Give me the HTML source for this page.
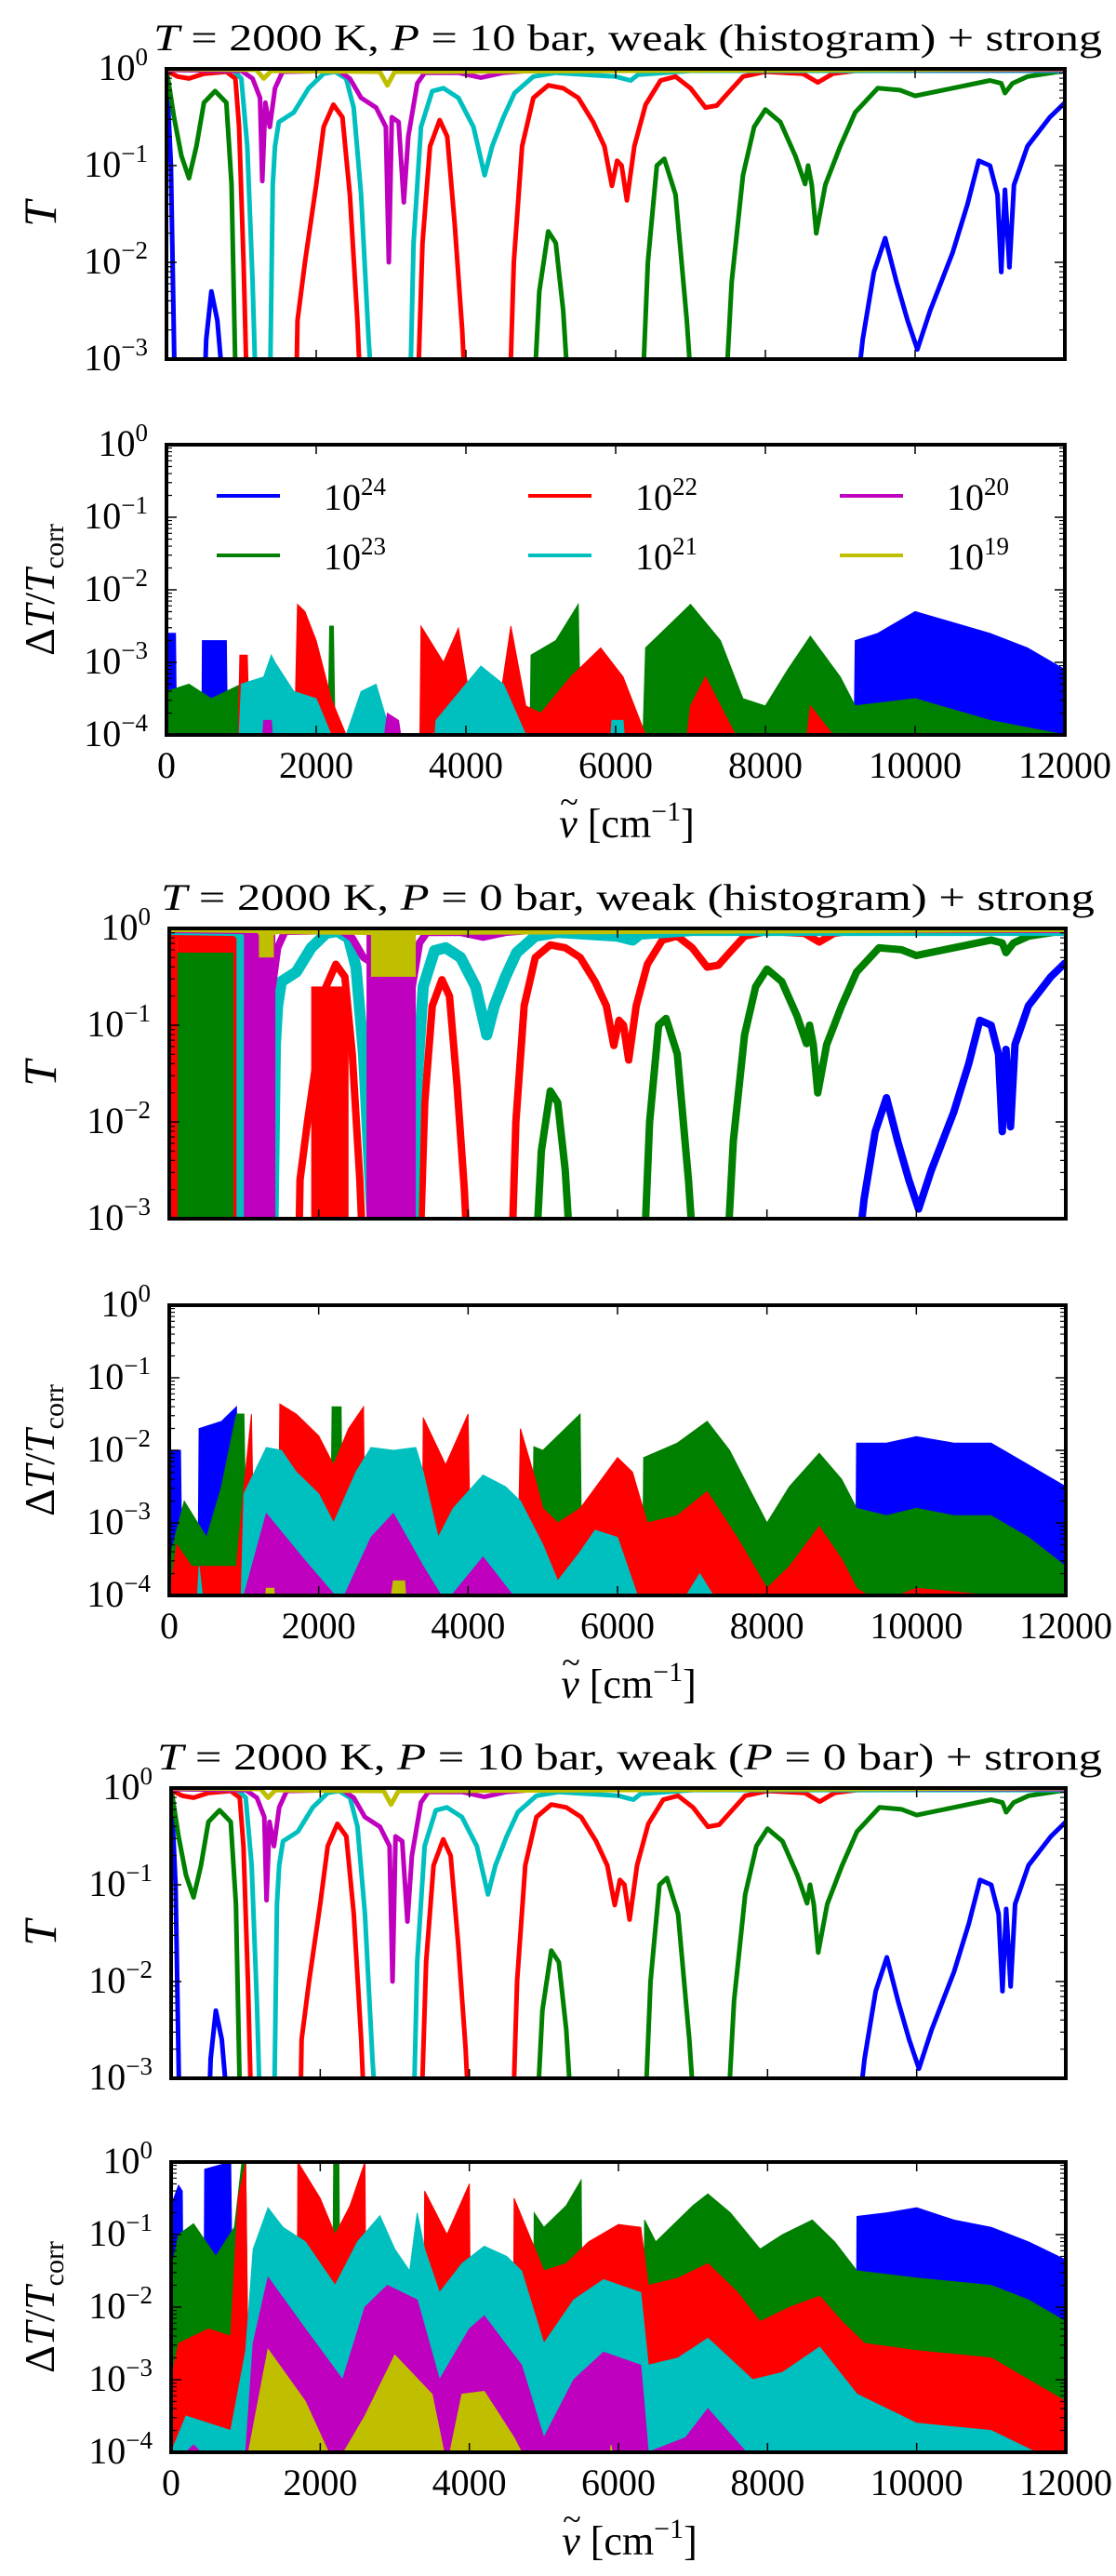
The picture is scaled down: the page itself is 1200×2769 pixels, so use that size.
<!DOCTYPE html>
<html><head><meta charset="utf-8">
<style>
html,body{margin:0;padding:0;background:#fff;}
svg{display:block;}
text{font-family:"Liberation Serif","DejaVu Serif",serif;fill:#000;}
</style></head>
<body>
<svg id="fig" width="1200" height="2769" viewBox="0 0 1200 2769" xmlns="http://www.w3.org/2000/svg"></svg>
<script>
// ---------- DATA ----------
const seriesNames = ['1e24','1e23','1e22','1e21','1e20','1e19'];
const legendExps = ['24','23','22','21','20','19'];
const colors = ['#0000ff','#008000','#ff0000','#00bfbf','#bf00bf','#bfbf00'];
const xTicks = [0,2000,4000,6000,8000,10000,12000];
const tTickExps = [0,-1,-2,-3];
const eTickExps = [0,-1,-2,-3,-4];
const titles = [
 'T = 2000 K, P = 10 bar, weak (histogram) + strong',
 'T = 2000 K, P = 0 bar, weak (histogram) + strong',
 'T = 2000 K, P = 10 bar, weak (P = 0 bar) + strong'];

// transmission, log10 values [wavenumber, log10 T]
const transBlue = [[0,0],[60,-1],[115,-3.5],[500,-3.5],[530,-2.8],[600,-2.3],[680,-2.6],[780,-3.5],[9200,-3.5],[9300,-2.8],[9450,-2.1],[9600,-1.75],[9750,-2.2],[9900,-2.6],[10030,-2.9],[10200,-2.5],[10500,-1.9],[10700,-1.4],[10850,-0.95],[11000,-1.0],[11100,-1.3],[11150,-2.1],[11200,-1.25],[11260,-2.05],[11320,-1.2],[11500,-0.8],[11800,-0.5],[12000,-0.35]];
const transGreen = [[0,0],[100,-0.5],[200,-0.9],[300,-1.13],[400,-0.8],[500,-0.35],[650,-0.23],[800,-0.35],[870,-1.2],[930,-3.5],[4900,-3.5],[4980,-2.3],[5100,-1.68],[5200,-1.8],[5300,-2.5],[5380,-3.5],[6350,-3.5],[6430,-2.0],[6550,-1.0],[6650,-0.93],[6800,-1.3],[6950,-2.6],[7030,-3.5],[7460,-3.5],[7550,-2.2],[7700,-1.1],[7850,-0.6],[8000,-0.42],[8200,-0.55],[8400,-0.9],[8530,-1.19],[8570,-1.0],[8620,-1.2],[8680,-1.7],[8800,-1.2],[9000,-0.8],[9200,-0.45],[9500,-0.2],[9800,-0.22],[10000,-0.28],[10500,-0.2],[11000,-0.12],[11150,-0.15],[11200,-0.25],[11300,-0.15],[11500,-0.08],[12000,-0.02]];
const transRed = [[0,-0.02],[150,-0.08],[300,-0.1],[500,-0.05],[800,-0.03],[920,-0.1],[970,-0.6],[1030,-2.0],[1080,-3.5],[1730,-3.5],[1750,-2.6],[1850,-2.0],[2000,-1.2],[2100,-0.6],[2230,-0.37],[2350,-0.5],[2450,-1.3],[2550,-2.6],[2600,-3.5],[3350,-3.5],[3420,-1.8],[3520,-0.8],[3650,-0.53],[3750,-0.7],[3850,-1.6],[3950,-2.7],[4000,-3.5],[4580,-3.5],[4640,-2.0],[4750,-0.8],[4900,-0.3],[5100,-0.17],[5300,-0.2],[5500,-0.3],[5700,-0.55],[5850,-0.8],[5950,-1.21],[6020,-0.95],[6080,-1.0],[6150,-1.36],[6250,-0.8],[6400,-0.37],[6600,-0.12],[6800,-0.08],[7000,-0.2],[7200,-0.4],[7350,-0.38],[7500,-0.25],[7700,-0.08],[8000,-0.03],[8500,-0.05],[8700,-0.14],[8900,-0.05],[9200,-0.02],[12000,-0.01]];
const transCyan = [[0,-0.01],[900,-0.02],[1000,-0.1],[1080,-0.8],[1150,-2.2],[1200,-3.5],[1380,-3.5],[1420,-1.2],[1450,-0.8],[1500,-0.55],[1700,-0.45],[1900,-0.2],[2100,-0.05],[2250,-0.03],[2400,-0.1],[2500,-0.4],[2600,-1.3],[2700,-2.8],[2760,-3.5],[3250,-3.5],[3300,-1.8],[3400,-0.6],[3550,-0.23],[3700,-0.2],[3900,-0.3],[4100,-0.6],[4250,-1.1],[4350,-0.8],[4500,-0.5],[4650,-0.25],[4900,-0.08],[5200,-0.04],[6000,-0.08],[6200,-0.12],[6300,-0.06],[7000,-0.02],[12000,-0.02]];
const transMagenta = [[0,-0.01],[1000,-0.02],[1150,-0.1],[1250,-0.3],[1280,-1.16],[1320,-0.35],[1380,-0.6],[1450,-0.2],[1550,-0.03],[2300,-0.02],[2450,-0.1],[2600,-0.3],[2800,-0.4],[2930,-0.6],[2970,-2.0],[3010,-0.5],[3100,-0.55],[3170,-1.38],[3230,-0.7],[3350,-0.15],[3450,-0.04],[3900,-0.04],[4200,-0.09],[4500,-0.04],[5000,-0.01],[12000,-0.01]];
const transYellow = [[0,0],[1200,-0.01],[1300,-0.1],[1400,-0.02],[2850,-0.03],[2950,-0.17],[3050,-0.03],[12000,0]];
const transSeries = [transBlue,transGreen,transRed,transCyan,transMagenta,transYellow];

// extra filled regions for the P = 0 bar transmission panel: [series, x0, x1, topLog, bottomLog]
const p0Bands = [[0,0,70,0,-3.5],[1,60,880,-0.25,-3.5],[0,480,780,-1.56,-3.5],
 [2,0,110,-0.03,-3.5],[2,110,880,-0.03,-0.25],[2,860,1050,-0.03,-3.5],
 [3,900,1000,-0.03,-3.5],[4,1000,1420,-0.03,-3.5],[5,1200,1400,0,-0.3],
 [2,1900,2400,-0.6,-3.5],[1,2150,2250,-2.7,-3.5],[4,2640,3300,-0.03,-3.5],[5,2700,3300,0,-0.5]];

// relative error envelopes [wavenumber, log10 dT/T]; -5 = below axis
const errA = [
 [[0,-2.6],[120,-2.6],[140,-5],[470,-5],[480,-2.7],[800,-2.7],[820,-5],[9180,-5],[9200,-2.7],[9500,-2.6],[10000,-2.3],[10500,-2.45],[11000,-2.6],[11500,-2.8],[12000,-3.1]],
 [[0,-3.4],[300,-3.3],[600,-3.5],[1000,-3.3],[1100,-5],[2150,-5],[2180,-2.5],[2230,-2.5],[2260,-5],[4850,-5],[4870,-2.9],[5200,-2.7],[5500,-2.2],[5540,-5],[6350,-5],[6400,-2.8],[6700,-2.5],[7000,-2.2],[7400,-2.7],[7700,-3.5],[8000,-3.6],[8300,-3.1],[8600,-2.64],[9000,-3.2],[9200,-3.6],[10000,-3.5],[11000,-3.8],[12000,-4.0]],
 [[950,-5],[980,-2.9],[1080,-2.9],[1120,-5],[1700,-5],[1750,-2.2],[1850,-2.3],[2000,-2.7],[2200,-3.5],[2400,-4.0],[2450,-5],[3380,-5],[3400,-2.5],[3700,-3.0],[3900,-2.53],[4100,-3.8],[4400,-3.9],[4600,-2.5],[4800,-3.6],[5000,-3.7],[5400,-3.2],[5800,-2.8],[6100,-3.2],[6400,-4],[6500,-5],[6900,-5],[7000,-3.6],[7200,-3.2],[7600,-4],[7700,-5],[8500,-5],[8600,-3.6],[8900,-4],[9000,-5]],
 [[950,-5],[1000,-3.3],[1300,-3.2],[1400,-2.9],[1450,-3.0],[1700,-3.4],[2000,-3.5],[2200,-4],[2300,-5],[2400,-4],[2600,-3.4],[2800,-3.3],[3000,-4],[3100,-5],[3550,-5],[3600,-3.8],[4200,-3.05],[4500,-3.3],[4800,-4],[4850,-5],[5900,-5],[5950,-3.8],[6100,-3.8],[6150,-5]],
 [[1250,-5],[1300,-3.8],[1400,-3.8],[1450,-5],[2850,-5],[2950,-3.7],[3100,-3.8],[3200,-5]],
 [[0,-5],[12000,-5]]];
const errB = [
 [[0,-2.0],[150,-2.0],[180,-5],[380,-5],[400,-1.7],[700,-1.6],[900,-1.4],[930,-5],[9180,-5],[9200,-1.9],[9600,-1.9],[10000,-1.81],[10500,-1.9],[11000,-1.9],[11500,-2.2],[12000,-2.5]],
 [[0,-3.5],[200,-2.7],[500,-3.2],[700,-2.5],[900,-1.5],[1000,-1.5],[1050,-5],[2150,-5],[2180,-1.4],[2300,-1.4],[2330,-5],[4850,-5],[4880,-1.95],[5000,-2.0],[5300,-1.7],[5500,-1.5],[5530,-5],[6330,-5],[6350,-2.1],[6800,-1.9],[7200,-1.6],[7500,-2.0],[7800,-2.6],[8000,-3.0],[8300,-2.5],[8700,-2.04],[9000,-2.4],[9200,-2.8],[9600,-2.9],[10000,-2.8],[10500,-2.9],[11000,-2.9],[11500,-3.2],[12000,-3.6]],
 [[0,-4],[100,-3.3],[300,-3.6],[900,-3.6],[1000,-2.5],[1100,-1.5],[1150,-5],[1450,-5],[1480,-1.36],[1700,-1.5],[2000,-1.8],[2200,-2.2],[2400,-1.7],[2600,-1.4],[2630,-5],[3380,-5],[3400,-1.55],[3700,-2.2],[4000,-1.5],[4050,-5],[4650,-5],[4700,-1.7],[4900,-2.4],[5000,-2.8],[5200,-3.0],[5500,-2.8],[6000,-2.1],[6200,-2.3],[6400,-3.0],[6800,-2.9],[7200,-2.57],[7600,-3.2],[8000,-3.9],[8300,-3.6],[8700,-3.05],[9000,-3.5],[9200,-3.9],[9500,-4.1],[10000,-3.9],[11000,-4.0],[12000,-4.1]],
 [[0,-5],[350,-5],[400,-3.6],[500,-5],[950,-5],[1000,-2.6],[1300,-1.96],[1500,-2.0],[1700,-2.3],[2000,-2.6],[2200,-3.0],[2500,-2.3],[2700,-1.96],[3000,-2.0],[3300,-1.96],[3400,-2.3],[3600,-3.2],[3800,-2.8],[4200,-2.34],[4500,-2.5],[4700,-2.7],[5000,-3.3],[5200,-3.8],[5500,-3.4],[5700,-3.1],[6000,-3.2],[6300,-4.1],[6800,-4.2],[7100,-3.7],[7400,-4.2],[7600,-5]],
 [[950,-5],[1000,-4],[1300,-2.87],[1800,-3.5],[2300,-4.1],[2700,-3.2],[3000,-2.87],[3400,-3.6],[3700,-4.1],[4200,-3.47],[4600,-4],[4700,-5]],
 [[1250,-5],[1300,-3.9],[1400,-3.9],[1450,-5],[2900,-5],[3000,-3.8],[3150,-3.8],[3200,-5]]];
const errC = [
 [[0,-0.6],[100,-0.32],[150,-0.4],[180,-5],[430,-5],[450,-0.1],[800,0],[850,-5],[9180,-5],[9200,-0.75],[9600,-0.7],[10000,-0.63],[10500,-0.8],[11000,-0.9],[11500,-1.1],[12000,-1.35]],
 [[0,-1.5],[100,-1.0],[300,-0.85],[600,-1.3],[850,-0.9],[950,0],[1000,0],[1050,-5],[2150,-5],[2180,0],[2250,0],[2280,-5],[4850,-5],[4870,-0.7],[5000,-0.9],[5300,-0.6],[5500,-0.25],[5530,-5],[6330,-5],[6350,-0.8],[6500,-1.1],[7000,-0.6],[7200,-0.44],[7500,-0.7],[7900,-1.2],[8200,-1.0],[8600,-0.8],[8900,-1.1],[9200,-1.5],[10000,-1.6],[11000,-1.7],[11500,-1.9],[12000,-2.2]],
 [[0,-3.0],[100,-2.5],[500,-2.3],[800,-2.4],[900,-0.5],[1000,0],[1050,-5],[1680,-5],[1700,0],[2000,-0.5],[2200,-1.0],[2400,-0.6],[2600,0],[2630,-5],[3380,-5],[3400,-0.4],[3700,-1.0],[4000,-0.3],[4030,-5],[4580,-5],[4600,-0.5],[4800,-1.0],[5000,-1.5],[5300,-1.4],[5600,-1.1],[6000,-0.86],[6300,-0.9],[6400,-1.7],[6800,-1.6],[7200,-1.4],[7600,-1.8],[7900,-2.2],[8300,-2.0],[8700,-1.85],[9000,-2.2],[9300,-2.5],[10000,-2.6],[11000,-2.7],[11500,-3.0],[12000,-3.3]],
 [[0,-4],[200,-3.5],[500,-3.6],[800,-3.7],[1000,-2.6],[1100,-1.2],[1300,-0.63],[1500,-0.9],[1800,-1.1],[2200,-1.7],[2500,-1.1],[2800,-0.74],[3000,-1.2],[3200,-1.5],[3300,-0.7],[3400,-1.2],[3600,-1.8],[3900,-1.4],[4200,-1.16],[4500,-1.3],[4700,-1.5],[5000,-2.5],[5400,-1.9],[5800,-1.62],[6300,-1.8],[6400,-2.8],[6800,-2.7],[7200,-2.43],[7800,-3.0],[8200,-2.9],[8700,-2.55],[9200,-3.2],[10000,-3.6],[11000,-3.7],[12000,-4.2]],
 [[0,-4.2],[300,-3.9],[600,-4.2],[1000,-4],[1100,-2.5],[1300,-1.59],[1800,-2.3],[2300,-3.0],[2600,-2.0],[2900,-1.7],[3300,-1.9],[3600,-3.0],[4000,-2.3],[4200,-2.12],[4700,-2.8],[5000,-3.8],[5400,-3.0],[5800,-2.62],[6300,-2.8],[6400,-4],[6900,-3.8],[7200,-3.4],[7800,-4.1],[8600,-4.1],[8700,-5]],
 [[950,-5],[1000,-4.2],[1300,-2.58],[1800,-3.3],[2200,-4.2],[2600,-3.5],[3000,-2.66],[3500,-3.2],[3700,-4.2],[3900,-3.2],[4200,-3.16],[4600,-3.8],[4800,-4.2],[4850,-5],[5850,-5],[5900,-3.9],[6000,-5]]];
const errSets = [errA, errB, errC];

// ---------- LAYOUT ----------
const NS='http://www.w3.org/2000/svg';
const svg=document.getElementById('fig');
const groupL=[179,182,184], groupR=[1145,1146,1146];
const tTop=[74,998,1922], eTop=[478,1403,2324], PH=312;
const titleX=[165,173,169], titleW=[1020,1004,1016];
function mk(tag,attrs,parent){const e=document.createElementNS(NS,tag);for(const k in attrs)e.setAttribute(k,attrs[k]);(parent||svg).appendChild(e);return e;}

function tenLabel(parent,xEnd,yBase,exp,name){
  const t=mk('text',{x:xEnd,y:yBase,'font-size':40,'text-anchor':'end'},parent);
  
  
  const s1=document.createElementNS(NS,'tspan');s1.textContent='10';t.appendChild(s1);
  const s2=document.createElementNS(NS,'tspan');s2.setAttribute('font-size','27');s2.setAttribute('dy','-16');
  s2.textContent=(exp<0?'\u2212':'')+Math.abs(exp);t.appendChild(s2);
  return t;
}

function drawAxes(g,gi,top,lo,kind){
  const L=groupL[gi],R=groupR[gi],B=top+PH;
  const X=v=>L+v/12000*(R-L), Y=lg=>top+lg/lo*PH;
  xTicks.forEach(v=>{
    const tk=mk('path',{d:`M${X(v)},${B}v-10M${X(v)},${top}v10`,stroke:'#000','stroke-width':1.5},g);
    
    
  });
  for(let d=0;d>lo;d--){
    for(let m=2;m<=9;m++){
      const yy=Y(d-1+Math.log10(m));
      const mt=mk('path',{d:`M${L},${yy}h6M${R},${yy}h-6`,stroke:'#000','stroke-width':1.2},g);
      
      
    }
  }
  const exps = kind==='t'?tTickExps:eTickExps;
  exps.forEach(e=>{
    const yy=Y(e);
    const tk=mk('path',{d:`M${L},${yy}h11M${R},${yy}h-11`,stroke:'#000','stroke-width':1.5},g);
    
    
    tenLabel(g,L-20,yy+12,e,'y-tick-label');
  });
  const fr=mk('rect',{x:L,y:top,width:R-L,height:PH,fill:'none',stroke:'#000','stroke-width':4},g);
  
  
}

for(let gi=0;gi<3;gi++){
  const L=groupL[gi],R=groupR[gi];
  const X=v=>L+v/12000*(R-L);
  // ===== transmission panel =====
  const top=tTop[gi], lo=-3;
  const Y=lg=>top+Math.min(-lg,3.6)/3*PH;
  const g=mk('g',{});
  
  
  const cp=mk('clipPath',{id:'ct'+gi},g);mk('rect',{x:L,y:top,width:R-L,height:PH},cp);
  const pg=mk('g',{'clip-path':`url(#ct${gi})`},g);
  const lw = gi===1?8:5;
  transSeries.forEach((arr,si)=>{
    if(gi===1){
      p0Bands.filter(b=>b[0]===si).forEach(b=>{
        const r=mk('rect',{x:X(b[1]),y:Y(b[3]),width:X(b[2])-X(b[1]),height:Y(b[4])-Y(b[3]),fill:colors[si]},pg);
        
        
      });
    }
    const w = (gi===1 && si===3)?12:lw;
    const pl=mk('polyline',{points:arr.map(p=>X(p[0]).toFixed(1)+','+Y(p[1]).toFixed(1)).join(' '),fill:'none',stroke:colors[si],'stroke-width':w,'stroke-linejoin':'round'},pg);
    
    
  });
  drawAxes(g,gi,top,lo,'t');
  const tt=mk('text',{x:titleX[gi],y:top-20,'font-size':40,textLength:titleW[gi],lengthAdjust:'spacingAndGlyphs'},g);
  
  
  tt.innerHTML=titles[gi].replace(/\b([TP]) =/g,'<tspan font-style="italic">$1</tspan> =');
  const yl=mk('text',{x:0,y:0,'font-size':50,'font-style':'italic','text-anchor':'middle',transform:`translate(60,${top+PH/2}) rotate(-90)`},g);
  
  
  yl.textContent='T';

  // ===== error panel =====
  const et=eTop[gi], elo=-4;
  const EY=lg=>et+Math.min(-lg,4.5)/4*PH;
  const eg=mk('g',{});
  
  
  const cp2=mk('clipPath',{id:'ce'+gi},eg);mk('rect',{x:L,y:et,width:R-L,height:PH},cp2);
  const epg=mk('g',{'clip-path':`url(#ce${gi})`},eg);
  errSets[gi].forEach((arr,si)=>{
    const pts=[[arr[0][0],-5],...arr,[arr[arr.length-1][0],-5]];
    const pp=mk('polygon',{points:pts.map(p=>X(p[0]).toFixed(1)+','+EY(p[1]).toFixed(1)).join(' '),fill:colors[si],stroke:colors[si],'stroke-width':1},epg);
    
    
  });
  drawAxes(eg,gi,et,elo,'e');
  xTicks.forEach(v=>{
    const tl=mk('text',{x:X(v),y:et+PH+46,'font-size':40,'text-anchor':'middle'},eg);
    
    
    tl.textContent=v;
  });
  const cx=(L+R)/2;
  const xl=mk('text',{x:cx+12,y:et+PH+110,'font-size':44,'text-anchor':'middle'},eg);
  
  
  xl.innerHTML='<tspan font-style="italic">ν</tspan> [cm<tspan font-size="30" dy="-18">−1</tspan><tspan dy="18">]</tspan>';
  const tl2=mk('text',{x:cx-50,y:et+PH+84,'font-size':36,'text-anchor':'middle'},eg);
  
  
  tl2.textContent='~';
  const el=mk('text',{x:0,y:0,'font-size':46,'text-anchor':'middle',transform:`translate(58,${et+PH/2}) rotate(-90)`},eg);
  
  
  el.innerHTML='Δ<tspan font-style="italic">T</tspan>/<tspan font-style="italic">T</tspan><tspan font-size="30" dy="10">corr</tspan>';

  if(gi===0){
    const lg=mk('g',{},eg);
    
    
    const colX=[233,568,903], rowY=[533,597];
    seriesNames.forEach((n,si)=>{
      const c=Math.floor(si/2), r=si%2;
      const ln=mk('line',{x1:colX[c],x2:colX[c]+68,y1:rowY[r],y2:rowY[r],stroke:colors[si],'stroke-width':4},lg);
      
      
      const t=mk('text',{x:colX[c]+115,y:rowY[r]+15,'font-size':40},lg);
      
      
      t.innerHTML='10<tspan font-size="27" dy="-16">'+legendExps[si]+'</tspan>';
    });
  }
}
</script>
</body></html>
